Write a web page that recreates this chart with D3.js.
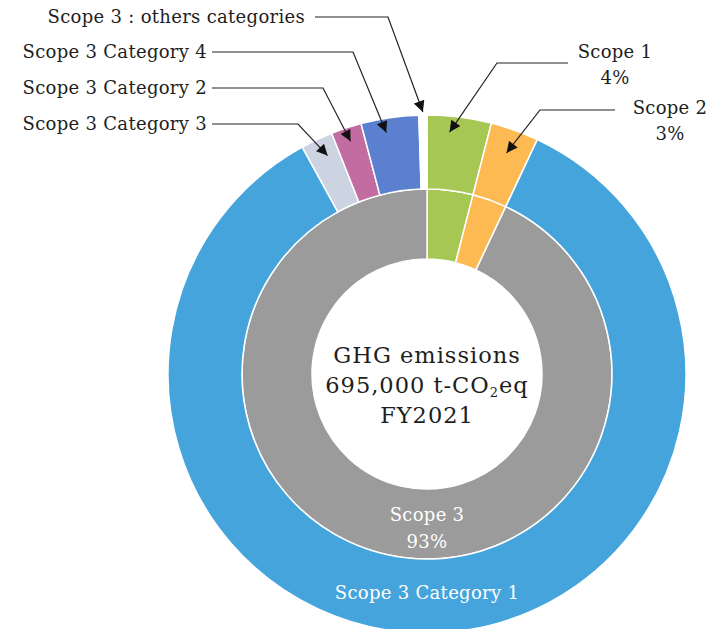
<!DOCTYPE html>
<html>
<head>
<meta charset="utf-8">
<script src="https://cdn.jsdelivr.net/npm/d3@7"></script>
<style>
  html, body { margin: 0; padding: 0; background: #fff; }
  svg { display: block; }
  text { font-family: "DejaVu Serif", "Liberation Serif", serif; }
</style>
</head>
<body>
<svg id="chart" width="722" height="629"></svg>
<script>
// Inner ring: emissions by scope (% of total)
const scopeNames  = ["Scope 1", "Scope 2", "Scope 3"];
const scopeValues = [4, 3, 93];
const scopeColors = ["#a6c753", "#fdb952", "#9b9b9b"];

// Outer ring: scope 1 and 2, then scope 3 broken down by category
const detailNames  = ["Scope 1", "Scope 2", "Scope 3 Category 1", "Scope 3 Category 3",
                      "Scope 3 Category 2", "Scope 3 Category 4", "Scope 3 : others categories"];
const detailValues = [4, 3, 85.0, 2.0, 1.9, 3.6, 0.5];
const detailColors = ["#a6c753", "#fdb952", "#45a4dc", "#cdd4e1", "#c26ca2", "#5b80d0", "#ffffff"];

const centerLines = ["GHG emissions", "695,000 t-CO₂eq", "FY2021"];

const svg = d3.select("#chart");
const cx = 427, cy = 374;
const rIn = 115, rMid = 185, rOut = 259;

const g = svg.append("g").attr("transform", `translate(${cx},${cy})`);

const pie = d3.pie().sort(null).value(d => d);

const innerArcs = pie(scopeValues);
const outerArcs = pie(detailValues);

const innerArc = d3.arc().innerRadius(rIn).outerRadius(rMid);
const outerArc = d3.arc().innerRadius(rMid).outerRadius(rOut);

g.selectAll("path.inner").data(innerArcs).join("path")
  .attr("class", "inner")
  .attr("d", innerArc)
  .attr("fill", (d, i) => scopeColors[i])
  .attr("stroke", "#fff").attr("stroke-width", 1.5);

g.selectAll("path.outer").data(outerArcs).join("path")
  .attr("class", "outer")
  .attr("d", outerArc)
  .attr("fill", (d, i) => detailColors[i])
  .attr("stroke", "#fff").attr("stroke-width", 1.5);

// Centre caption
const cap = g.append("text")
  .attr("text-anchor", "middle")
  .attr("fill", "#1e1e1e")
  .style("font-size", "22.5px")
  .style("letter-spacing", "1px");
cap.append("tspan").attr("x", 0).attr("y", -11).text(centerLines[0]);
const l2 = cap.append("tspan").attr("x", 0).attr("y", 19);
const parts = centerLines[1].split("₂");
l2.append("tspan").text(parts[0]);
l2.append("tspan").text("2").style("font-size", "13px").attr("dy", 4);
l2.append("tspan").text(parts[1]).attr("dy", -4);
cap.append("tspan").attr("x", 0).attr("y", 49).text(centerLines[2]);

// Labels sitting on the rings
g.append("text")
  .attr("text-anchor", "middle").attr("fill", "#fff")
  .style("font-size", "18px").style("letter-spacing", "0.3px")
  .selectAll("tspan")
  .data([scopeNames[2], scopeValues[2] + "%"])
  .join("tspan")
  .attr("x", 0)
  .attr("y", (d, i) => 147 + i * 27)
  .text(d => d);

g.append("text")
  .attr("text-anchor", "middle").attr("fill", "#fff")
  .style("font-size", "18px").style("letter-spacing", "0.3px")
  .attr("x", 0).attr("y", 225)
  .text(detailNames[2]);

// Call-out labels with arrows
const defs = svg.append("defs");
defs.append("marker")
  .attr("id", "arrow")
  .attr("viewBox", "0 0 10 10")
  .attr("refX", 10).attr("refY", 5)
  .attr("markerWidth", 12).attr("markerHeight", 11)
  .attr("markerUnits", "userSpaceOnUse")
  .attr("orient", "auto")
  .append("path").attr("d", "M0,0 L10,5 L0,10 Z").attr("fill", "#111");

// index into outer ring, text anchor position, elbow, line start, tip fraction & radius
const callouts = [
  { i: 6, lines: [detailNames[6]], tx: 305, ty: 17, anchor: "end", x0: 315, ex: 388, ey: 17, t: 0.5, r: 262 },
  { i: 5, lines: [detailNames[5]], tx: 207, ty: 52, anchor: "end", x0: 212, ex: 353, ey: 52, t: 0.4, r: 245 },
  { i: 4, lines: [detailNames[4]], tx: 207, ty: 88, anchor: "end", x0: 212, ex: 323, ey: 88, t: 0.5, r: 245 },
  { i: 3, lines: [detailNames[3]], tx: 207, ty: 124, anchor: "end", x0: 212, ex: 298, ey: 124, t: 0.6, r: 240 },
  { i: 0, lines: [detailNames[0], detailValues[0] + "%"], tx: 615, ty: 52, anchor: "middle", x0: 568, ex: 497, ey: 63, t: 0.37, r: 243 },
  { i: 1, lines: [detailNames[1], detailValues[1] + "%"], tx: 670, ty: 108, anchor: "middle", x0: 615, ex: 540, ey: 110, t: 0.5, r: 235 }
];

callouts.forEach(c => {
  const a = outerArcs[c.i];
  const ang = a.startAngle + c.t * (a.endAngle - a.startAngle);
  const tipX = cx + c.r * Math.sin(ang);
  const tipY = cy - c.r * Math.cos(ang);
  svg.append("path")
    .attr("d", `M${c.x0},${c.ey} L${c.ex},${c.ey} L${tipX},${tipY}`)
    .attr("fill", "none")
    .attr("stroke", "#222")
    .attr("stroke-width", 1.2)
    .attr("marker-end", "url(#arrow)");
  const t = svg.append("text")
    .attr("text-anchor", c.anchor)
    .attr("fill", "#1e1e1e")
    .style("font-size", "18px")
    .style("letter-spacing", "0.3px");
  c.lines.forEach((s, k) => {
    t.append("tspan").attr("x", c.tx).attr("y", c.ty + 6 + k * 26).text(s);
  });
});
</script>
</body>
</html>
